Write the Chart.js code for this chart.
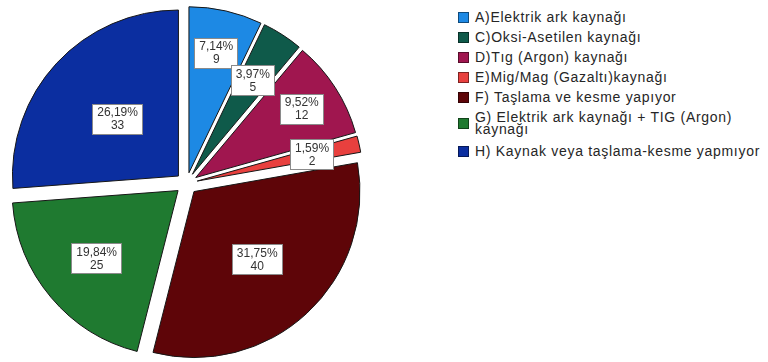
<!DOCTYPE html>
<html>
<head>
<meta charset="utf-8">
<script src="https://cdn.jsdelivr.net/npm/chart.js@4/dist/chart.umd.min.js"></script>
<style>
  body { margin: 0; background: #fff; width: 768px; height: 362px; overflow: hidden; position: relative; }
  #pieBox { position: absolute; left: 0; top: 0; width: 373px; height: 362px; }
  #legend { position: absolute; left: 458px; top: 11px; width: 306px; font-family: "Liberation Sans", Arial, sans-serif; font-size: 14px; letter-spacing: 0.7px; color: #262626; }
  #legend .item { display: flex; align-items: center; margin-bottom: 8px; }
  #legend .box { width: 11px; height: 11px; flex: 0 0 11px; margin-right: 6px; box-sizing: border-box; border: 1px solid rgba(0,0,0,0.45); }
  #legend .txt { line-height: 12px; width: 292px; }
  #legend .item.wrap { margin-bottom: 10px; }
</style>
</head>
<body>
<div id="pieBox"><canvas id="pie" width="373" height="362"></canvas></div>
<div id="legend"></div>
<script>
var categories = [
    'A)Elektrik ark kaynağı',
    'C)Oksi-Asetilen kaynağı',
    'D)Tıg (Argon) kaynağı',
    'E)Mig/Mag (Gazaltı)kaynağı',
    'F) Taşlama ve kesme yapıyor',
    'G) Elektrik ark kaynağı + TIG (Argon) kaynağı',
    'H) Kaynak veya taşlama-kesme yapmıyor'
];
var counts = [9, 5, 12, 2, 40, 25, 33];
var sliceColors = ['#1d89e4', '#0f5a4a', '#a0164f', '#e8403e', '#5e0508', '#1f7a30', '#0b2ea0'];

var total = counts.reduce(function (a, b) { return a + b; }, 0);
var EXPLODE = 11;
// how far out along the radius each value box sits
var labelFrac = [0.74, 0.67, 0.76, 0.71, 0.56, 0.64, 0.5];

function pctText(v) {
    return (v / total * 100).toFixed(2).replace('.', ',') + '%';
}

// pull every slice out along its middle angle without growing its radius
var explodePlugin = {
    id: 'explode',
    afterUpdate: function (chart) {
        chart.getDatasetMeta(0).data.forEach(function (arc) {
            if (arc._pulled) return;
            arc._pulled = true;
            var baseDraw = arc.draw;
            arc.draw = function (ctx, area) {
                var mid = (this.startAngle + this.endAngle) / 2;
                ctx.save();
                ctx.translate(Math.cos(mid) * EXPLODE, Math.sin(mid) * EXPLODE);
                baseDraw.call(this, ctx, area);
                ctx.restore();
            };
        });
    }
};

// white boxes with percent and count inside the slices
var valueBoxes = {
    id: 'valueBoxes',
    afterDatasetsDraw: function (chart) {
        var ctx = chart.ctx;
        ctx.save();
        ctx.font = '12px "Liberation Sans", Arial, sans-serif';
        ctx.textAlign = 'center';
        ctx.textBaseline = 'middle';
        chart.getDatasetMeta(0).data.forEach(function (arc, i) {
            var mid = (arc.startAngle + arc.endAngle) / 2;
            var r = arc.outerRadius * labelFrac[i] + EXPLODE;
            var x = arc.x + Math.cos(mid) * r;
            var y = arc.y + Math.sin(mid) * r;
            var line1 = pctText(counts[i]);
            var line2 = String(counts[i]);
            var w = Math.max(ctx.measureText(line1).width, 32) + 10;
            var h = 31;
            var left = Math.round(x - w / 2);
            var top = Math.round(y - h / 2);
            ctx.fillStyle = '#ffffff';
            ctx.fillRect(left, top, Math.round(w), h);
            ctx.strokeStyle = '#8a8a8a';
            ctx.lineWidth = 1;
            ctx.strokeRect(left + 0.5, top + 0.5, Math.round(w) - 1, h - 1);
            ctx.fillStyle = '#333333';
            ctx.fillText(line1, x, y - 6.5);
            ctx.fillText(line2, x, y + 6.5);
        });
        ctx.restore();
    }
};

var pieChart = new Chart(document.getElementById('pie'), {
    type: 'pie',
    data: {
        labels: categories,
        datasets: [{
            data: counts,
            backgroundColor: sliceColors,
            borderColor: '#161616',
            borderWidth: 1
        }]
    },
    options: {
        responsive: false,
        animation: false,
        radius: 166,
        layout: { padding: { top: 5 } },
        plugins: {
            legend: { display: false },
            tooltip: { enabled: false }
        }
    },
    plugins: [explodePlugin, valueBoxes]
});

// legend entries come from the chart's own label generator
var legendEl = document.getElementById('legend');
Chart.overrides.pie.plugins.legend.labels.generateLabels(pieChart).forEach(function (item) {
    var row = document.createElement('div');
    row.className = 'item';
    var sw = document.createElement('span');
    sw.className = 'box';
    sw.style.background = item.fillStyle;
    var tx = document.createElement('span');
    tx.className = 'txt';
    tx.textContent = item.text;
    row.appendChild(sw);
    row.appendChild(tx);
    legendEl.appendChild(row);
    if (tx.getBoundingClientRect().height > 14) row.classList.add('wrap');
});
</script>
</body>
</html>
